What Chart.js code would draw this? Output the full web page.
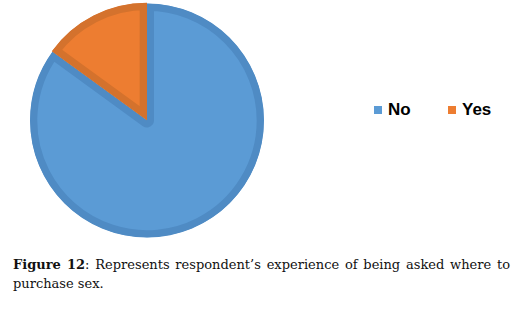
<!DOCTYPE html>
<html>
<head>
<meta charset="utf-8">
<script src="https://cdn.jsdelivr.net/npm/chart.js@4/dist/chart.umd.min.js"></script>
<style>
  html, body { margin: 0; padding: 0; background: #ffffff; }
  body { width: 530px; height: 309px; position: relative; overflow: hidden; }
  #pie { position: absolute; left: 0; top: 0; }
  .leg { position: absolute; top: 100px; font: bold 17px "Liberation Sans", Arial, sans-serif; color: #000; line-height: 20px; white-space: nowrap; }
  .leg i { display: inline-block; width: 8px; height: 8px; margin-right: 6px; vertical-align: 1px; }
  .cap { position: absolute; left: 13px; width: 497px; font: 13px "DejaVu Serif", serif; color: #111; line-height: 19px; white-space: nowrap; }
  #l1 { top: 255px; text-align: justify; text-align-last: justify; }
  #l2 { top: 274px; }
</style>
</head>
<body>
<canvas id="pie" width="294" height="241"></canvas>
<div class="leg" id="legNo" style="left:374px"><i style="background:#5b9bd5"></i>No</div>
<div class="leg" id="legYes" style="left:448px"><i style="background:#ed7d31"></i>Yes</div>
<div class="cap" id="l1"><b>Figure 12</b>: Represents respondent’s experience of being asked where to</div>
<div class="cap" id="l2">purchase sex.</div>
<script>
const categories = ['No', 'Yes'];
const values = [85, 15];
const fillColors = ['#5b9bd5', '#ed7d31'];
const borderColors = ['#4f8bc4', '#d4722d'];

new Chart(document.getElementById('pie'), {
  type: 'pie',
  data: {
    labels: categories,
    datasets: [{
      data: values,
      backgroundColor: fillColors,
      borderColor: borderColors,
      borderWidth: 7,
      borderAlign: 'inner',
      offset: [0, 3]
    }]
  },
  options: {
    responsive: false,
    animation: false,
    devicePixelRatio: 1,
    radius: 117,
    layout: { padding: 0 },
    events: [],
    plugins: {
      legend: { display: false },
      tooltip: { enabled: false }
    }
  }
});
</script>
</body>
</html>
